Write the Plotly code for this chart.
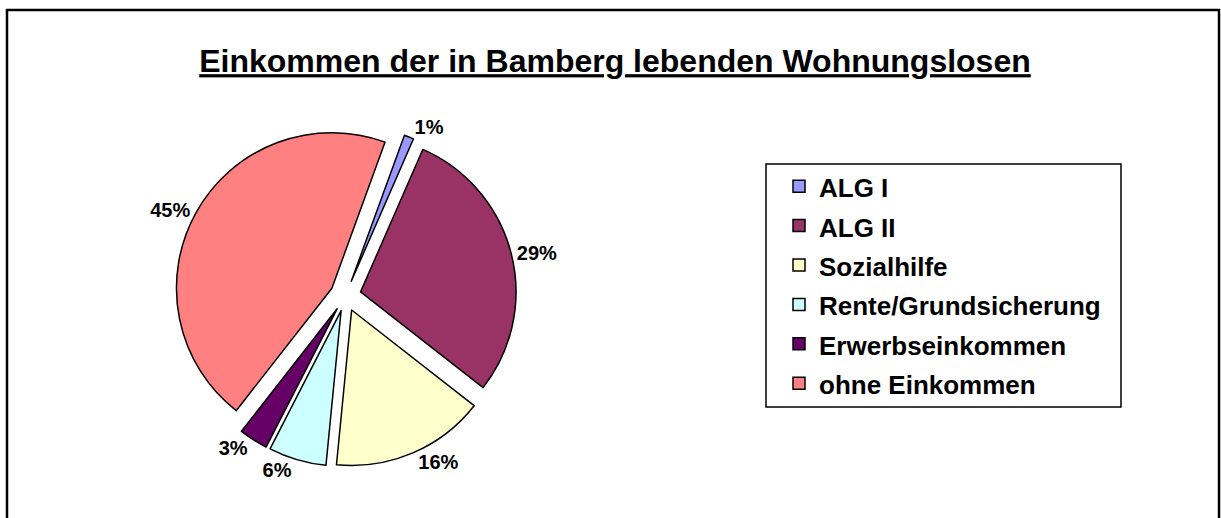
import plotly.graph_objects as go

# data
labels = ["ALG I", "ALG II", "Sozialhilfe", "Rente/Grundsicherung",
          "Erwerbseinkommen", "ohne Einkommen"]
shares = [1, 29, 16, 6, 3, 45]
colors = ["#9999FF", "#993366", "#FFFFCC", "#CCFFFF", "#660066", "#FF8080"]
title = "Einkommen der in Bamberg lebenden Wohnungslosen"

W, H = 1221, 518
FONT = "Arial, Liberation Sans, sans-serif"

# legend rows are spaced a bit wider than plotly's default for this font size,
# so the legend font is set larger and the visible text is sized back down
legend_text = ["<span style='font-size:26px'>%s</span>" % s for s in labels]


def px(x, y):
    # pixel position -> paper coords (margins are zero)
    return x / W, 1 - y / H


pie = go.Pie(
    labels=legend_text,
    values=shares,
    sort=False,
    direction="clockwise",
    rotation=20,
    pull=0.1,
    marker=dict(colors=colors, line=dict(color="black", width=1.5)),
    texttemplate="%{percent:.0%}",
    textposition="outside",
    outsidetextfont=dict(family=FONT, size=20, color="black", weight="bold"),
    domain=dict(x=[174.5 / W, 516.5 / W], y=[1 - 466.7 / H, 1 - 124.7 / H]),
    hoverinfo="percent",
)

fig = go.Figure(data=[pie])

fx0, fy0 = px(7, 10)
lx0, ly0 = px(766, 164)
lx1, ly1 = px(1121, 407)

fig.update_layout(
    width=W,
    height=H,
    margin=dict(l=0, r=0, t=0, b=0),
    paper_bgcolor="white",
    plot_bgcolor="white",
    title=dict(
        text=title,
        x=615 / W, xanchor="center",
        y=1 - 61 / H, yanchor="middle",
        font=dict(family=FONT, size=32, color="black", weight="bold",
                  lineposition="under"),
    ),
    legend=dict(
        x=779 / W, xanchor="left",
        y=1 - 285 / H, yanchor="middle",
        bgcolor="rgba(0,0,0,0)",
        borderwidth=0,
        font=dict(family=FONT, size=28, color="black", weight="bold"),
    ),
    shapes=[
        # outer chart frame (runs off the bottom of the picture)
        dict(type="rect", xref="paper", yref="paper",
             x0=fx0, x1=1219 / W, y0=-0.1, y1=fy0,
             line=dict(color="black", width=2.5), layer="above"),
        # legend box
        dict(type="rect", xref="paper", yref="paper",
             x0=lx0, x1=lx1, y0=ly1, y1=ly0,
             line=dict(color="black", width=1.5), layer="below"),
    ],
)

fig.write_html("out.html", config={"displayModeBar": False},
               post_script="document.body.style.margin='0';")
